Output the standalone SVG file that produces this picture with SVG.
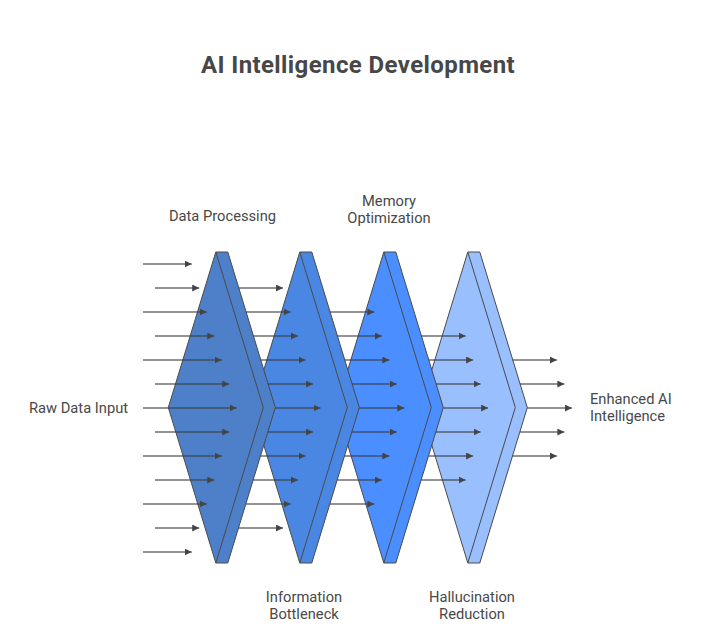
<svg xmlns="http://www.w3.org/2000/svg" width="708" height="633" viewBox="0 0 708 633">
<style>
.bg{fill:#ffffff}
.title{font-family:Roboto,"Liberation Sans",sans-serif;font-size:24px;font-weight:bold;fill:#474747;letter-spacing:0.4px}
.lbl{font-family:Roboto,"Liberation Sans",sans-serif;font-size:14.7px;fill:#484848}
.shape{stroke:#4a4a4a;stroke-width:1;stroke-linejoin:round}
.inner{fill:none;stroke:#4a4a4a;stroke-width:1;stroke-linejoin:round}
.s0{fill:#4e80c9}
.s1{fill:#4a87e2}
.s2{fill:#4a8eff}
.s3{fill:#99bfff}
.c{stroke:#3a3a3a;stroke-opacity:0.55;stroke-width:2;fill:none}
</style>
<defs>
<marker id="ah" markerUnits="userSpaceOnUse" markerWidth="8" markerHeight="8" refX="7" refY="3.5" orient="auto">
<path d="M0,0 L7,3.5 L0,7 Z" fill="#454545"/>
</marker>
</defs>
<rect class="bg" x="0" y="0" width="708" height="633"/>
<text class="title" x="358" y="73" text-anchor="middle">AI Intelligence Development</text>

<g id="node-hallucination-reduction">
<polygon class="shape s3" points="467.8,252 479.8,252 527.3,407.5 479.8,563 467.8,563 420.3,407.5"/>
<polyline class="inner" points="467.8,252 515.3,407.5 467.8,563"/>
<text class="lbl" x="472" y="602" text-anchor="middle">Hallucination</text>
<text class="lbl" x="472" y="619" text-anchor="middle">Reduction</text>
</g>
<g id="node-memory-optimization">
<polygon class="shape s2" points="383.8,252 395.8,252 443.3,407.5 395.8,563 383.8,563 336.3,407.5"/>
<polyline class="inner" points="383.8,252 431.3,407.5 383.8,563"/>
<text class="lbl" x="389" y="206" text-anchor="middle">Memory</text>
<text class="lbl" x="389" y="223" text-anchor="middle">Optimization</text>
</g>
<g id="node-information-bottleneck">
<polygon class="shape s1" points="299.8,252 311.8,252 359.3,407.5 311.8,563 299.8,563 252.3,407.5"/>
<polyline class="inner" points="299.8,252 347.3,407.5 299.8,563"/>
<text class="lbl" x="304" y="602" text-anchor="middle">Information</text>
<text class="lbl" x="304" y="619" text-anchor="middle">Bottleneck</text>
</g>
<g id="node-data-processing">
<polygon class="shape s0" points="215.8,252 227.8,252 275.3,407.5 227.8,563 215.8,563 168.3,407.5"/>
<polyline class="inner" points="215.8,252 263.3,407.5 215.8,563"/>
<text class="lbl" x="222.5" y="221" text-anchor="middle">Data Processing</text>
</g>
<g id="node-raw-data-input">
<text class="lbl" x="29" y="413">Raw Data Input</text>
</g>
<g id="node-enhanced-ai-intelligence">
<text class="lbl" x="590" y="404">Enhanced AI</text>
<text class="lbl" x="590" y="421">Intelligence</text>
</g>

<g id="connectors">
<line class="c" marker-end="url(#ah)" x1="143" y1="264" x2="191.7" y2="264"/>
<line class="c" marker-end="url(#ah)" x1="155" y1="288" x2="199.2" y2="288"/>
<line class="c" marker-end="url(#ah)" x1="143" y1="312" x2="206.7" y2="312"/>
<line class="c" marker-end="url(#ah)" x1="155" y1="336" x2="214.2" y2="336"/>
<line class="c" marker-end="url(#ah)" x1="143" y1="360" x2="221.7" y2="360"/>
<line class="c" marker-end="url(#ah)" x1="155" y1="384" x2="229.2" y2="384"/>
<line class="c" marker-end="url(#ah)" x1="143" y1="408" x2="236.7" y2="408"/>
<line class="c" marker-end="url(#ah)" x1="155" y1="432" x2="229.2" y2="432"/>
<line class="c" marker-end="url(#ah)" x1="143" y1="456" x2="221.7" y2="456"/>
<line class="c" marker-end="url(#ah)" x1="155" y1="480" x2="214.2" y2="480"/>
<line class="c" marker-end="url(#ah)" x1="143" y1="504" x2="206.7" y2="504"/>
<line class="c" marker-end="url(#ah)" x1="155" y1="528" x2="199.2" y2="528"/>
<line class="c" marker-end="url(#ah)" x1="143" y1="552" x2="191.7" y2="552"/>

<line class="c" marker-end="url(#ah)" x1="238.6" y1="288" x2="283" y2="288"/>
<line class="c" marker-end="url(#ah)" x1="246" y1="312" x2="290.5" y2="312"/>
<line class="c" marker-end="url(#ah)" x1="253.3" y1="336" x2="298" y2="336"/>
<line class="c" marker-end="url(#ah)" x1="260.6" y1="360" x2="305.5" y2="360"/>
<line class="c" marker-end="url(#ah)" x1="268" y1="384" x2="313" y2="384"/>
<line class="c" marker-end="url(#ah)" x1="275.3" y1="408" x2="320.5" y2="408"/>
<line class="c" marker-end="url(#ah)" x1="268" y1="432" x2="313" y2="432"/>
<line class="c" marker-end="url(#ah)" x1="260.6" y1="456" x2="305.5" y2="456"/>
<line class="c" marker-end="url(#ah)" x1="253.3" y1="480" x2="298" y2="480"/>
<line class="c" marker-end="url(#ah)" x1="246" y1="504" x2="290.5" y2="504"/>
<line class="c" marker-end="url(#ah)" x1="238.6" y1="528" x2="283" y2="528"/>

<line class="c" marker-end="url(#ah)" x1="330" y1="312" x2="374.3" y2="312"/>
<line class="c" marker-end="url(#ah)" x1="337.3" y1="336" x2="381.8" y2="336"/>
<line class="c" marker-end="url(#ah)" x1="344.6" y1="360" x2="389.3" y2="360"/>
<line class="c" marker-end="url(#ah)" x1="352" y1="384" x2="396.8" y2="384"/>
<line class="c" marker-end="url(#ah)" x1="359.3" y1="408" x2="404.3" y2="408"/>
<line class="c" marker-end="url(#ah)" x1="352" y1="432" x2="396.8" y2="432"/>
<line class="c" marker-end="url(#ah)" x1="344.6" y1="456" x2="389.3" y2="456"/>
<line class="c" marker-end="url(#ah)" x1="337.3" y1="480" x2="381.8" y2="480"/>
<line class="c" marker-end="url(#ah)" x1="330" y1="504" x2="374.3" y2="504"/>

<line class="c" marker-end="url(#ah)" x1="421.3" y1="336" x2="465.6" y2="336"/>
<line class="c" marker-end="url(#ah)" x1="428.6" y1="360" x2="473.1" y2="360"/>
<line class="c" marker-end="url(#ah)" x1="436" y1="384" x2="480.6" y2="384"/>
<line class="c" marker-end="url(#ah)" x1="443.3" y1="408" x2="488.1" y2="408"/>
<line class="c" marker-end="url(#ah)" x1="436" y1="432" x2="480.6" y2="432"/>
<line class="c" marker-end="url(#ah)" x1="428.6" y1="456" x2="473.1" y2="456"/>
<line class="c" marker-end="url(#ah)" x1="421.3" y1="480" x2="465.6" y2="480"/>

<line class="c" marker-end="url(#ah)" x1="512.6" y1="360" x2="556.9" y2="360"/>
<line class="c" marker-end="url(#ah)" x1="520" y1="384" x2="564.4" y2="384"/>
<line class="c" marker-end="url(#ah)" x1="527.3" y1="408" x2="571.9" y2="408"/>
<line class="c" marker-end="url(#ah)" x1="520" y1="432" x2="564.4" y2="432"/>
<line class="c" marker-end="url(#ah)" x1="512.6" y1="456" x2="556.9" y2="456"/>
</g>
</svg>
